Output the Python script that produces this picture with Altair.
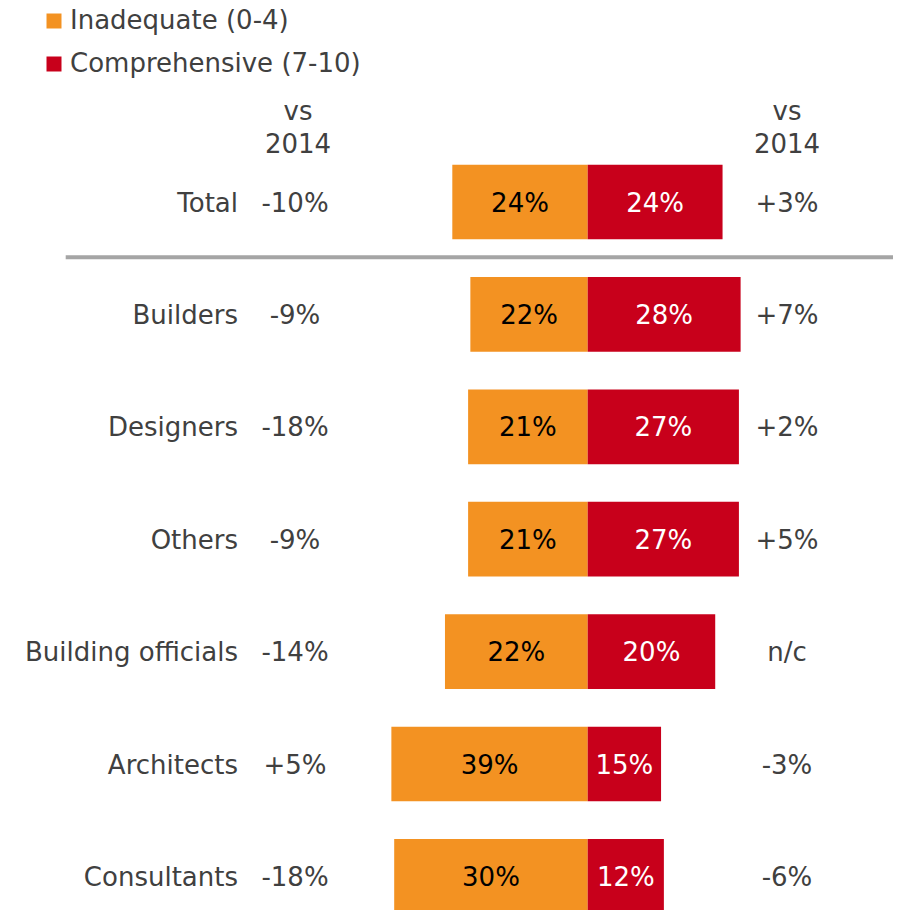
import altair as alt
import pandas as pd

categories = ["Total", "Builders", "Designers", "Others",
              "Building officials", "Architects", "Consultants"]
series_names = ["Inadequate (0-4)", "Comprehensive (7-10)"]

# printed shares
inadequate_labels = ["24%", "22%", "21%", "21%", "22%", "39%", "30%"]
comprehensive_labels = ["24%", "28%", "27%", "27%", "20%", "15%", "12%"]

# bar lengths as drawn in the picture (percentage-point scale of the Total row)
inadequate_bar = [24.0, 20.8, 21.2, 21.2, 25.3, 34.8, 34.3]
comprehensive_bar = [23.9, 27.1, 26.8, 26.8, 22.6, 13.0, 13.5]

# change vs 2014
change_inadequate = ["-10%", "-9%", "-18%", "-9%", "-14%", "+5%", "-18%"]
change_comprehensive = ["+3%", "+7%", "+2%", "+5%", "n/c", "-3%", "-6%"]

header_text = ["vs", "2014"]

FONT = "DejaVu Sans"
TXT = "#404040"
ORANGE = "#F39222"
RED = "#C8001B"

rows = []
for i, c in enumerate(categories):
    rows.append({"cat": c, "series": series_names[0], "x0": -inadequate_bar[i], "x1": 0.0,
                 "mid": -inadequate_bar[i] / 2, "label": inadequate_labels[i],
                 "chg": change_inadequate[i]})
    rows.append({"cat": c, "series": series_names[1], "x0": 0.0, "x1": comprehensive_bar[i],
                 "mid": comprehensive_bar[i] / 2, "label": comprehensive_labels[i],
                 "chg": change_comprehensive[i]})
df = pd.DataFrame(rows)

W, H = 885, 902
xscale = alt.Scale(domain=[-102.75, 54.11], range=[0, W], nice=False, zero=False)
yscale = alt.Scale(domain=categories, range=[137.8, 924.6], paddingInner=0.3354, paddingOuter=0.1677)

base = alt.Chart(df)

bars = base.mark_bar(size=74.7).encode(
    x=alt.X("x0:Q", scale=xscale, axis=None),
    x2="x1:Q",
    y=alt.Y("cat:N", scale=yscale, axis=None, sort=categories),
    color=alt.Color("series:N",
                    scale=alt.Scale(domain=series_names, range=[ORANGE, RED]),
                    legend=alt.Legend(orient="none", legendX=33, legendY=0, title=None,
                                      symbolType="square", symbolSize=225, symbolStrokeWidth=0,
                                      labelFontSize=26, labelFont=FONT, labelColor=TXT,
                                      labelOffset=3, labelLimit=0, rowPadding=17, padding=0,
                                      direction="vertical")),
)

bar_labels = base.mark_text(font=FONT, fontSize=26, baseline="middle", align="center", dy=1.5).encode(
    x=alt.X("mid:Q", scale=xscale),
    y=alt.Y("cat:N", scale=yscale, sort=categories),
    text="label:N",
    color=alt.Color("series:N", scale=alt.Scale(domain=series_names, range=["#000000", "#FFFFFF"]),
                    legend=None),
)

cat_df = pd.DataFrame({"cat": categories})
cat_labels = alt.Chart(cat_df).mark_text(font=FONT, fontSize=26, baseline="middle",
                                         align="right", color=TXT, dy=1.5).encode(
    x=alt.value(230),
    y=alt.Y("cat:N", scale=yscale, sort=categories),
    text="cat:N",
)

left_chg = alt.Chart(df[df.series == series_names[0]]).mark_text(
    font=FONT, fontSize=26, baseline="middle", align="center", color=TXT, dy=1.5).encode(
    x=alt.value(287),
    y=alt.Y("cat:N", scale=yscale, sort=categories),
    text="chg:N",
)
right_chg = alt.Chart(df[df.series == series_names[1]]).mark_text(
    font=FONT, fontSize=26, baseline="middle", align="center", color=TXT, dy=1.5).encode(
    x=alt.value(779),
    y=alt.Y("cat:N", scale=yscale, sort=categories),
    text="chg:N",
)

hdr_df = pd.DataFrame({"t": header_text, "yy": [112, 145.3]})
hdr_left = alt.Chart(hdr_df).mark_text(font=FONT, fontSize=26, baseline="alphabetic",
                                       align="center", color=TXT).encode(
    x=alt.value(290), y=alt.Y("yy:Q", scale=None), text="t:N")
hdr_right = alt.Chart(hdr_df).mark_text(font=FONT, fontSize=26, baseline="alphabetic",
                                        align="center", color=TXT).encode(
    x=alt.value(779), y=alt.Y("yy:Q", scale=None), text="t:N")

sep = alt.Chart(pd.DataFrame({"a": [0]})).mark_rule(color="#A5A5A5", strokeWidth=4).encode(
    x=alt.value(57.7), x2=alt.value(W), y=alt.value(249.3))

chart = alt.layer(bars, bar_labels, cat_labels, left_chg, right_chg, hdr_left, hdr_right, sep).resolve_scale(
    color="independent"
).properties(
    width=W, height=H, autosize="none", padding=0
).configure_view(stroke=None)

chart.save("out.html", embed_options={"renderer": "svg", "actions": False})
